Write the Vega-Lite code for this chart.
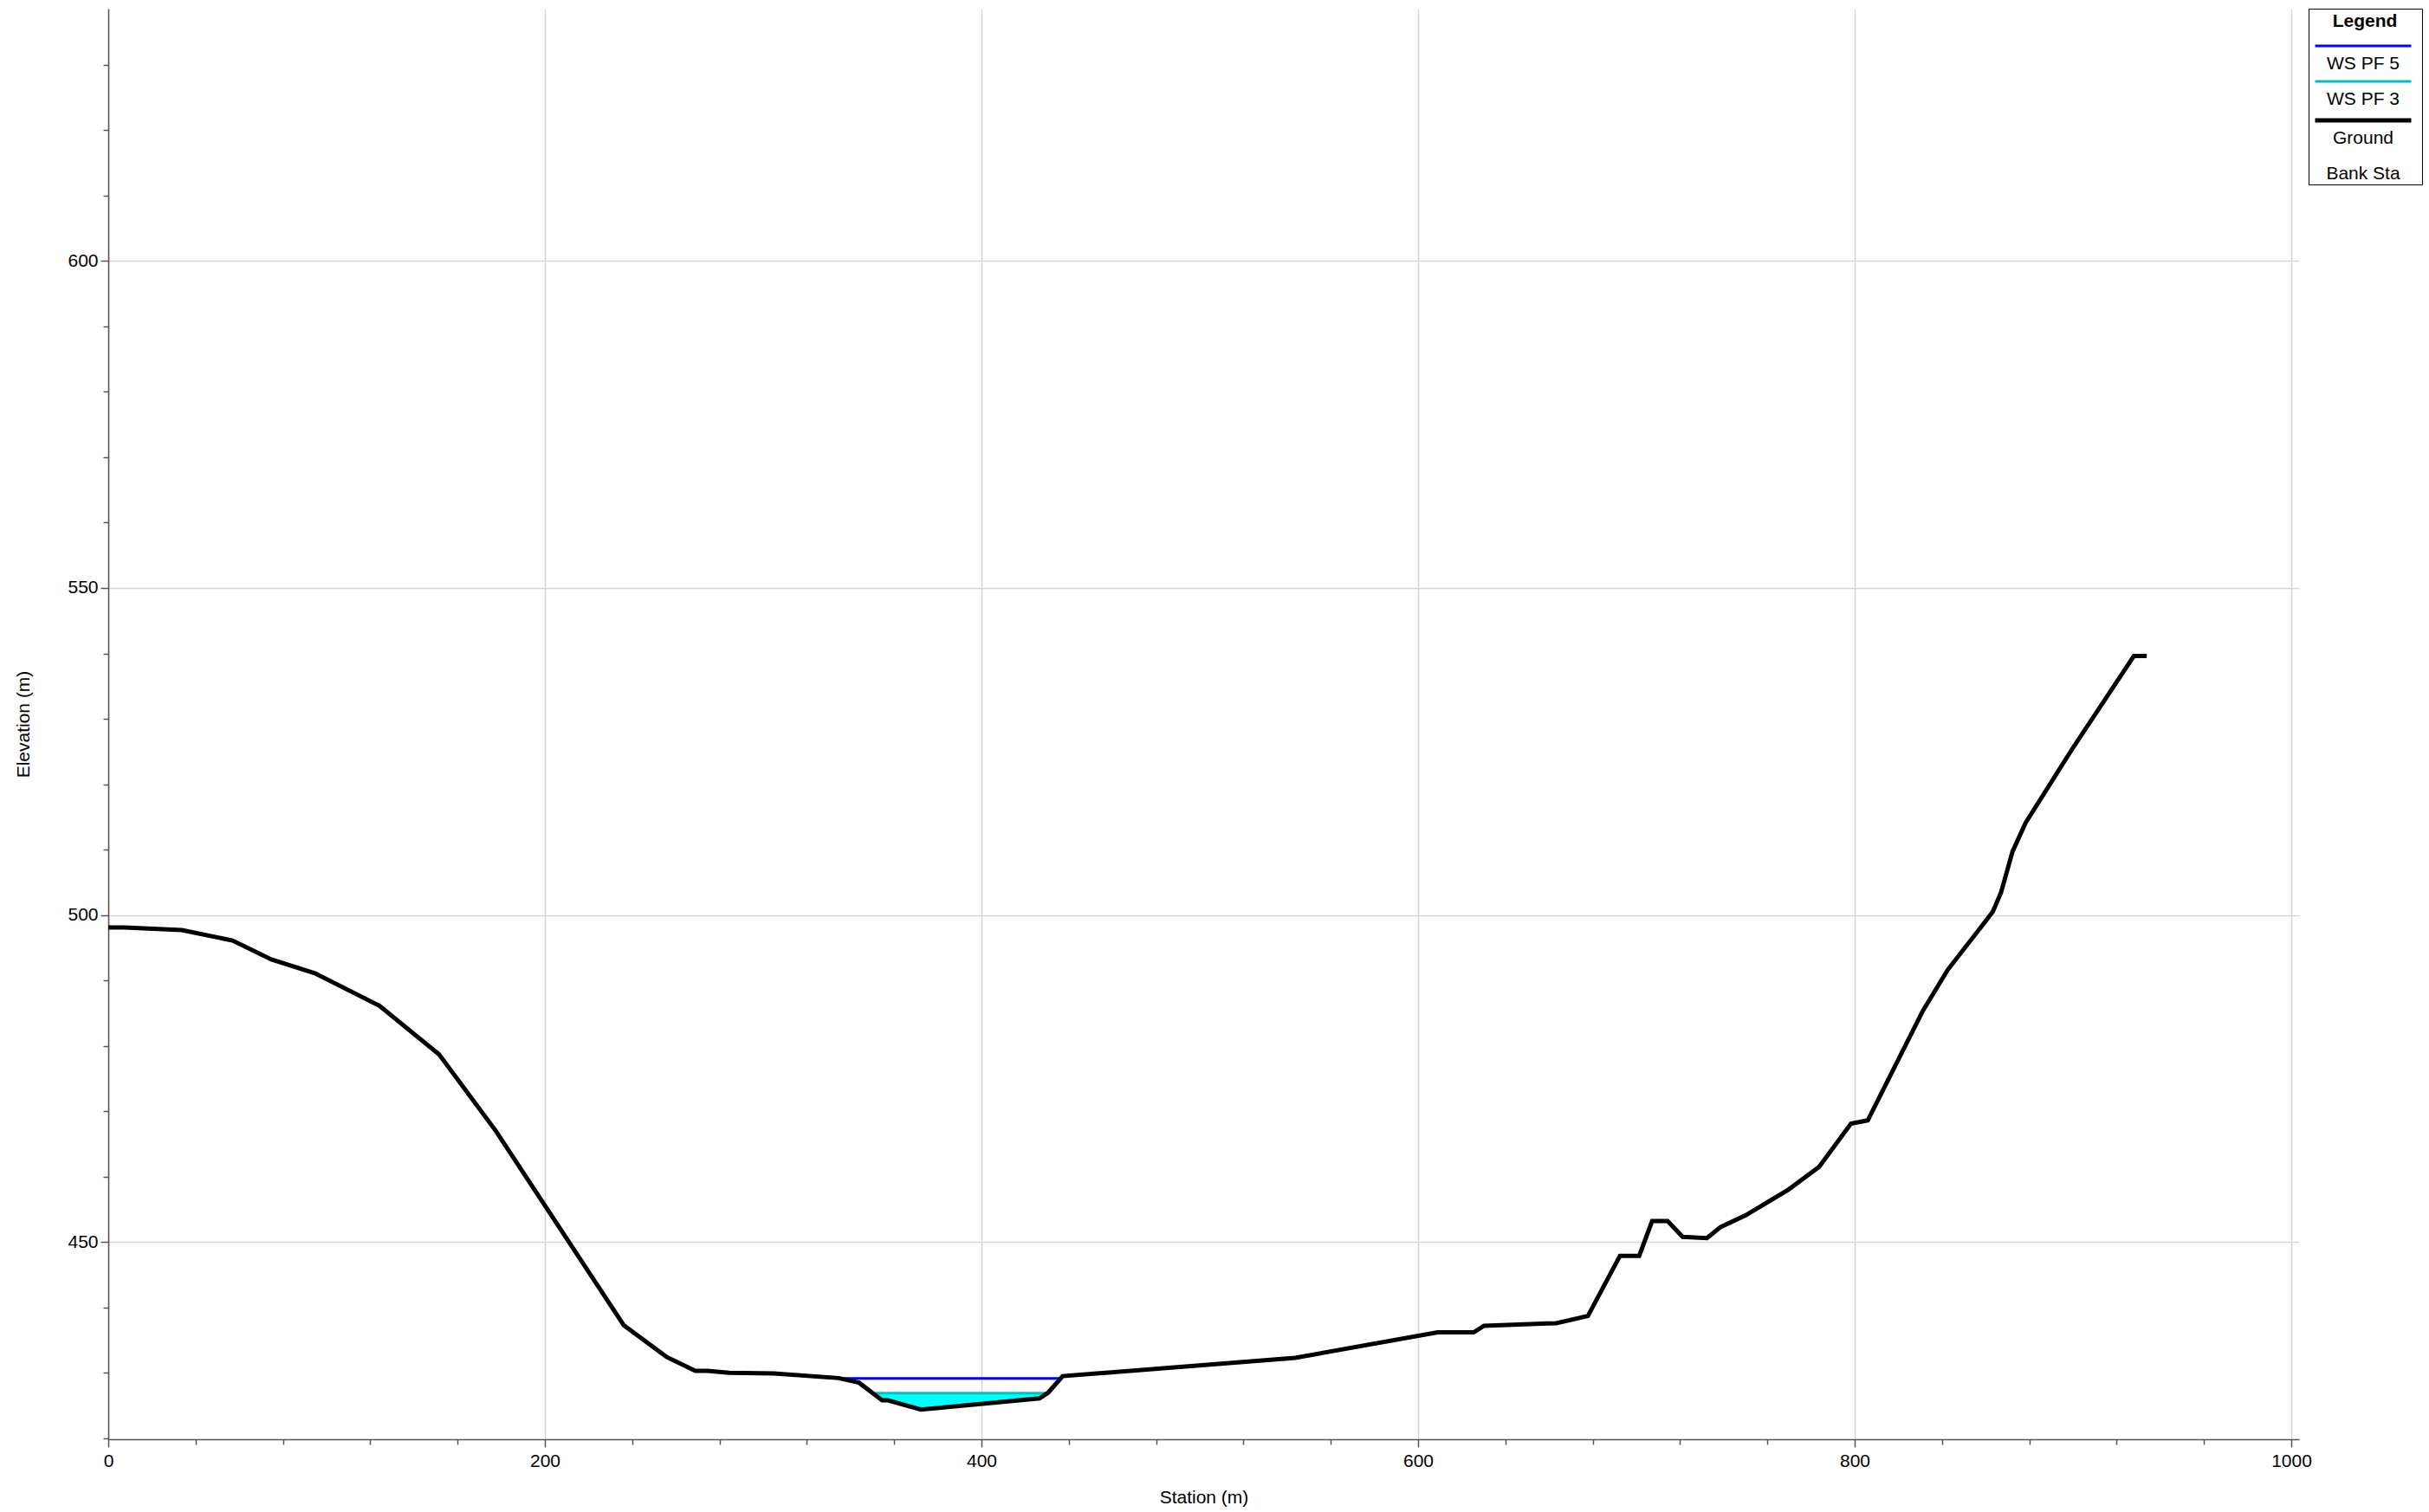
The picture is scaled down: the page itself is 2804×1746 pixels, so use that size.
{
  "$schema": "https://vega.github.io/schema/vega-lite/v6.json",
  "width": 2529,
  "height": 1652,
  "autosize": {"type": "none"},
  "padding": {"left": 125, "top": 10, "right": 150, "bottom": 84},
  "background": "#FFFFFF",
  "datasets": {
    "ground": [
      {"station": 0, "elevation": 498.1},
      {"station": 7.3, "elevation": 498.1},
      {"station": 33.7, "elevation": 497.7},
      {"station": 56.9, "elevation": 496.1},
      {"station": 74.7, "elevation": 493.2},
      {"station": 94.6, "elevation": 491.1},
      {"station": 124.3, "elevation": 486.1},
      {"station": 151.5, "elevation": 478.7},
      {"station": 177.5, "elevation": 467.0},
      {"station": 236.1, "elevation": 437.3},
      {"station": 255.9, "elevation": 432.4},
      {"station": 268.9, "elevation": 430.3},
      {"station": 274.5, "elevation": 430.3},
      {"station": 284.4, "elevation": 430.0},
      {"station": 304.9, "elevation": 429.9},
      {"station": 334.6, "elevation": 429.2},
      {"station": 343.9, "elevation": 428.5},
      {"station": 354.5, "elevation": 425.8},
      {"station": 357.1, "elevation": 425.8},
      {"station": 372.3, "elevation": 424.4},
      {"station": 426.6, "elevation": 426.1},
      {"station": 430.6, "elevation": 427.0},
      {"station": 437.2, "elevation": 429.5},
      {"station": 543.7, "elevation": 432.3},
      {"station": 609.0, "elevation": 436.2},
      {"station": 625.5, "elevation": 436.2},
      {"station": 630.2, "elevation": 437.2},
      {"station": 663.3, "elevation": 437.6},
      {"station": 677.8, "elevation": 438.7},
      {"station": 692.5, "elevation": 447.9},
      {"station": 701.3, "elevation": 447.9},
      {"station": 707.2, "elevation": 453.2},
      {"station": 714.3, "elevation": 453.2},
      {"station": 721.2, "elevation": 450.8},
      {"station": 732.3, "elevation": 450.6},
      {"station": 738.6, "elevation": 452.3},
      {"station": 750.1, "elevation": 454.1},
      {"station": 769.6, "elevation": 458.0},
      {"station": 783.7, "elevation": 461.5},
      {"station": 798.3, "elevation": 468.1},
      {"station": 806.0, "elevation": 468.6},
      {"station": 831.3, "elevation": 485.4},
      {"station": 842.6, "elevation": 491.6},
      {"station": 863.3, "elevation": 500.5},
      {"station": 867.1, "elevation": 503.5},
      {"station": 872.3, "elevation": 509.7},
      {"station": 878.3, "elevation": 514.1},
      {"station": 899.5, "elevation": 525.3},
      {"station": 927.9, "elevation": 539.6},
      {"station": 933.8, "elevation": 539.6}
    ],
    "wet": [
      {"station": 350.2, "elevation": 426.9, "ws": 426.9},
      {"station": 354.5, "elevation": 425.8, "ws": 426.9},
      {"station": 357.1, "elevation": 425.8, "ws": 426.9},
      {"station": 372.3, "elevation": 424.4, "ws": 426.9},
      {"station": 426.6, "elevation": 426.1, "ws": 426.9},
      {"station": 430.2, "elevation": 426.9, "ws": 426.9}
    ],
    "ws": [
      {"profile": "WS PF 5", "station": 334.6, "elevation": 429.15},
      {"profile": "WS PF 5", "station": 436.8, "elevation": 429.15},
      {"profile": "WS PF 3", "station": 350.2, "elevation": 426.9},
      {"profile": "WS PF 3", "station": 430.2, "elevation": 426.9}
    ]
  },
  "encoding": {
    "x": {
      "field": "station",
      "type": "quantitative",
      "title": "Station (m)",
      "scale": {"domain": [0, 1003.57], "nice": false, "zero": false},
      "axis": {
        "values": [0, 40, 80, 120, 160, 200, 240, 280, 320, 360, 400, 440, 480, 520, 560, 600, 640, 680, 720, 760, 800, 840, 880, 920, 960, 1000],
        "format": "d",
        "labelExpr": "datum.value % 200 === 0 ? datum.label : ''",
        "tickSize": {"condition": {"test": "datum.value % 200 === 0", "value": 9}, "value": 6},
        "gridOpacity": {"condition": {"test": "datum.value % 200 === 0", "value": 1}, "value": 0},
        "labelFlush": false,
        "labelOverlap": false,
        "labelPadding": 5,
        "titlePadding": 21
      }
    },
    "y": {
      "field": "elevation",
      "type": "quantitative",
      "title": "Elevation (m)",
      "scale": {"domain": [419.85, 638.57], "nice": false, "zero": false},
      "axis": {
        "values": [420, 430, 440, 450, 460, 470, 480, 490, 500, 510, 520, 530, 540, 550, 560, 570, 580, 590, 600, 610, 620, 630],
        "format": "d",
        "labelExpr": "datum.value % 50 === 0 ? datum.label : ''",
        "tickSize": {"condition": {"test": "datum.value % 50 === 0", "value": 9}, "value": 6},
        "gridOpacity": {"condition": {"test": "datum.value % 50 === 0", "value": 1}, "value": 0},
        "labelOverlap": false,
        "labelPadding": 3,
        "titlePadding": 40
      }
    }
  },
  "layer": [
    {
      "data": {"name": "wet"},
      "mark": {"type": "area", "color": "#00FFFF", "opacity": 1},
      "encoding": {"y2": {"field": "ws"}}
    },
    {
      "data": {"name": "ws"},
      "mark": {"type": "line", "strokeWidth": 3},
      "encoding": {
        "color": {
          "field": "profile",
          "type": "nominal",
          "scale": {"domain": ["WS PF 5", "WS PF 3", "Ground", "Bank Sta"], "range": ["#0000FF", "#00C0C0", "#000000", "rgba(0,0,0,0)"]},
          "legend": {
            "orient": "none", "legendX": 2540, "legendY": 0, "direction": "vertical",
            "title": "Legend", "titleFontSize": 21, "titleFontWeight": "bold", "titleFont": "Liberation Sans", "titleColor": "#000000", "titleAnchor": "middle", "titlePadding": 20,
            "padding": 2, "strokeColor": "#000000", "fillColor": "#FFFFFF",
            "symbolType": "stroke", "symbolSize": 12321, "symbolStrokeWidth": 3,
            "labelFont": "Liberation Sans", "labelFontSize": 21, "labelColor": "#000000", "labelAlign": "center", "labelBaseline": "middle", "labelLimit": 200,
            "rowPadding": 4,
            "encode": {
              "title": {"update": {"dy": {"value": 2}}},
              "symbols": {"update": {"x": {"value": 61}, "y": {"value": 0}, "strokeWidth": {"signal": "datum.value === 'Ground' ? 5 : 3"}}},
              "labels": {"update": {"x": {"value": 61}, "y": {"value": 21}}}
            }
          }
        }
      }
    },
    {
      "data": {"name": "ground"},
      "mark": {"type": "line", "strokeWidth": 5},
      "encoding": {
        "color": {
          "datum": "Ground",
          "type": "nominal",
          "scale": {"domain": ["WS PF 5", "WS PF 3", "Ground", "Bank Sta"], "range": ["#0000FF", "#00C0C0", "#000000", "rgba(0,0,0,0)"]},
          "legend": {
            "orient": "none", "legendX": 2540, "legendY": 0, "direction": "vertical",
            "title": "Legend", "titleFontSize": 21, "titleFontWeight": "bold", "titleFont": "Liberation Sans", "titleColor": "#000000", "titleAnchor": "middle", "titlePadding": 20,
            "padding": 2, "strokeColor": "#000000", "fillColor": "#FFFFFF",
            "symbolType": "stroke", "symbolSize": 12321, "symbolStrokeWidth": 3,
            "labelFont": "Liberation Sans", "labelFontSize": 21, "labelColor": "#000000", "labelAlign": "center", "labelBaseline": "middle", "labelLimit": 200,
            "rowPadding": 4,
            "encode": {
              "title": {"update": {"dy": {"value": 2}}},
              "symbols": {"update": {"x": {"value": 61}, "y": {"value": 0}, "strokeWidth": {"signal": "datum.value === 'Ground' ? 5 : 3"}}},
              "labels": {"update": {"x": {"value": 61}, "y": {"value": 21}}}
            }
          }
        }
      }
    }
  ],
  "config": {
    "font": "Liberation Sans",
    "view": {"stroke": null},
    "axis": {
      "domainColor": "#555555",
      "domainWidth": 1.5,
      "tickColor": "#555555",
      "tickWidth": 1.5,
      "gridColor": "#D6D6D6",
      "gridWidth": 1.5,
      "labelFont": "Liberation Sans",
      "labelFontSize": 21,
      "labelColor": "#000000",
      "titleFont": "Liberation Sans",
      "titleFontSize": 21,
      "titleFontWeight": "normal",
      "titleColor": "#000000"
    }
  }
}
